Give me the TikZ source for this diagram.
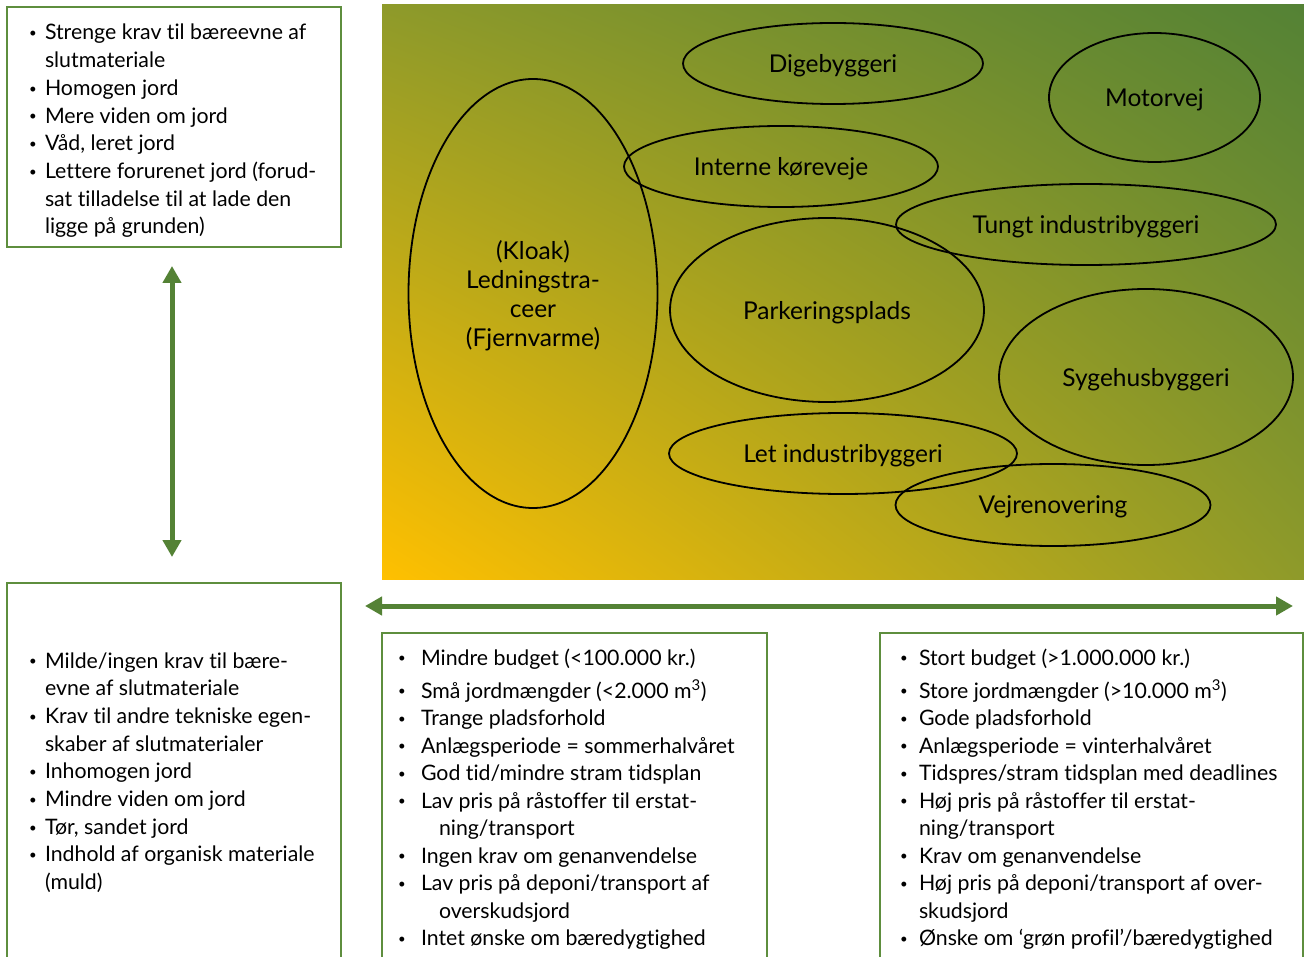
\documentclass[tikz,border=0pt]{standalone}
\usepackage{fontspec}
\setmainfont{Lato}[Ligatures=NoCommon]
\usetikzlibrary{shapes.geometric,arrows.meta,shadings}

\definecolor{leaf}{HTML}{548235}
\definecolor{frame}{HTML}{5E8E3E}
\definecolor{amber}{HTML}{FFC000}
\definecolor{olive}{HTML}{8E9A2A}

% small bullet in a box of given width, and the matching indent for wrapped lines
\newcommand\bul[1]{\makebox[#1][l]{\hspace*{1pt}\raisebox{2.2pt}{\scalebox{0.62}{•}}}}
\newcommand\ind[1]{\hspace*{#1}}

\begin{document}
\begin{tikzpicture}[x=1pt,y=-1pt,
  every node/.style={font=\fontsize{21.3}{27.7}\selectfont, inner sep=0pt, outer sep=0pt},
  panel/.style={draw=frame, line width=1.5pt, fill=white, anchor=north west},
  oval/.style={ellipse, draw=black, line width=1.8pt, align=center, text depth=0pt,
    font=\fontsize{24.5}{29}\selectfont},
  rowtext/.style={anchor=base west},
  twoway/.style={draw=leaf, line width=5pt,
    {Triangle[width=18pt,length=17pt]}-{Triangle[width=18pt,length=17pt]}}
]
\useasboundingbox (0,0) rectangle (1304,957);
\fill[white] (0,0) rectangle (1304,957);
\clip (0,0) rectangle (1304,957);

% ---- gradient field with the project types ----
\shade[upper left=olive, upper right=leaf, lower left=amber, lower right=olive]
  (382,5) rectangle (1305,579);

\node[oval, minimum width=249pt, minimum height=429pt] (kloak) at (533,293.5)
  {(Kloak)\\Ledningstra-\\ceer\\(Fjernvarme)};
\node[oval, minimum width=300pt, minimum height=81pt] (dige) at (833,63.5) {Digebyggeri};
\node[oval, minimum width=211pt, minimum height=129pt] (motor) at (1154.5,97.5) {Motorvej};
\node[oval, minimum width=314pt, minimum height=81pt] (intern) at (781,166.5) {Interne køreveje};
\node[oval, minimum width=380pt, minimum height=81pt] (tungt) at (1086,224.5) {Tungt industribyggeri};
\node[oval, minimum width=314pt, minimum height=184pt] (parker) at (827,310) {Parkeringsplads};
\node[oval, minimum width=294pt, minimum height=176pt] (sygehus) at (1146,377) {Sygehusbyggeri};
\node[oval, minimum width=348pt, minimum height=81pt] (letind) at (843,453.5) {Let industribyggeri};
\node[oval, minimum width=315pt, minimum height=82pt] (vejr) at (1053,505) {Vejrenovering};

% ---- double arrows ----
\coordinate (vtop) at (172,266);
\coordinate (vbot) at (172,557);
\coordinate (hleft) at (365,606);
\coordinate (hright) at (1293,606);
\draw[twoway] (vtop) -- (vbot);
\draw[twoway] (hleft) -- (hright);

% ---- text panels ----
\node[panel, minimum width=334pt, minimum height=240pt] (topbox) at (7,7) {};
\node[panel, minimum width=334pt, minimum height=420pt] (lowbox) at (7,583) {};
\node[panel, minimum width=385pt, minimum height=400pt] (smallbox) at (382,633) {};
\node[panel, minimum width=423pt, minimum height=400pt] (largebox) at (880,633) {};

\foreach \t [count=\i] in {
  {\bul{17pt}Strenge krav til bæreevne af},
  {\ind{17pt}slutmateriale},
  {\bul{17pt}Homogen jord},
  {\bul{17pt}Mere viden om jord},
  {\bul{17pt}Våd, leret jord},
  {\bul{17pt}Lettere forurenet jord (forud-},
  {\ind{17pt}sat tilladelse til at lade den},
  {\ind{17pt}ligge på grunden)}}
  \node[rowtext] (tl-\i) at (28,{40+27.7*(\i-1)}) {\t};

\foreach \t [count=\i] in {
  {\bul{17pt}Milde/ingen krav til bære-},
  {\ind{17pt}evne af slutmateriale},
  {\bul{17pt}Krav til andre tekniske egen-},
  {\ind{17pt}skaber af slutmaterialer},
  {\bul{17pt}Inhomogen jord},
  {\bul{17pt}Mindre viden om jord},
  {\bul{17pt}Tør, sandet jord},
  {\bul{17pt}Indhold af organisk materiale},
  {\ind{17pt}(muld)}}
  \node[rowtext] (bl-\i) at (28,{668+27.7*(\i-1)}) {\t};

\node[rowtext] (mb-1) at (397,665) {\bul{24pt}Mindre budget (<100.000 kr.)};
\foreach \t [count=\i from 2] in {
  {\bul{24pt}Små jordmængder (<2.000 m\textsuperscript{3})},
  {\bul{24pt}Trange pladsforhold},
  {\bul{24pt}Anlægsperiode = sommerhalvåret},
  {\bul{24pt}God tid/mindre stram tidsplan},
  {\bul{24pt}Lav pris på råstoffer til erstat-},
  {\ind{42pt}ning/transport},
  {\bul{24pt}Ingen krav om genanvendelse},
  {\bul{24pt}Lav pris på deponi/transport af},
  {\ind{42pt}overskudsjord},
  {\bul{24pt}Intet ønske om bæredygtighed}}
  \node[rowtext] (mb-\i) at (397,{698+27.5*(\i-2)}) {\t};

\node[rowtext] (rb-1) at (899,665) {\bul{20pt}Stort budget (>1.000.000 kr.)};
\foreach \t [count=\i from 2] in {
  {\bul{20pt}Store jordmængder (>10.000 m\textsuperscript{3})},
  {\bul{20pt}Gode pladsforhold},
  {\bul{20pt}Anlægsperiode = vinterhalvåret},
  {\bul{20pt}Tidspres/stram tidsplan med deadlines},
  {\bul{20pt}Høj pris på råstoffer til erstat-},
  {\ind{20pt}ning/transport},
  {\bul{20pt}Krav om genanvendelse},
  {\bul{20pt}Høj pris på deponi/transport af over-},
  {\ind{20pt}skudsjord},
  {\bul{20pt}Ønske om ‘grøn profil’/bæredygtighed}}
  \node[rowtext] (rb-\i) at (899,{698+27.5*(\i-2)}) {\t};
\end{tikzpicture}
\end{document}
